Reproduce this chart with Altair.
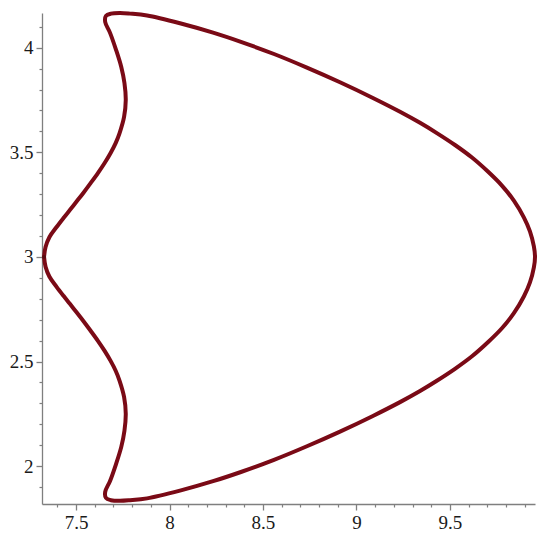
import altair as alt
import pandas as pd

# Closed curve: upper half (left tip -> right tip)
upper_x = [7.329, 7.337, 7.358, 7.396, 7.433, 7.467, 7.505, 7.539, 7.579, 7.617,
           7.653, 7.685, 7.712, 7.733, 7.757, 7.766, 7.759, 7.742, 7.714, 7.682,
           7.656, 7.660, 7.687, 7.735, 7.789, 7.880, 8.056, 8.233, 8.382, 8.559,
           8.735, 8.912, 9.088, 9.233, 9.340, 9.430, 9.527, 9.618, 9.703, 9.778,
           9.842, 9.896, 9.928, 9.949, 9.955]
upper_y = [3.000, 3.047, 3.095, 3.143, 3.186, 3.224, 3.267, 3.306, 3.354, 3.401,
           3.449, 3.497, 3.544, 3.592, 3.669, 3.750, 3.831, 3.908, 3.990, 4.071,
           4.123, 4.152, 4.163, 4.166, 4.163, 4.154, 4.117, 4.072, 4.028, 3.970,
           3.905, 3.835, 3.760, 3.694, 3.641, 3.592, 3.535, 3.475, 3.408, 3.341,
           3.269, 3.188, 3.122, 3.050, 3.000]
# lower half (right tip -> back to left tip)
lower_x = [9.949, 9.928, 9.896, 9.842, 9.778, 9.703, 9.618, 9.527, 9.430, 9.340,
           9.233, 9.088, 8.912, 8.735, 8.559, 8.382, 8.233, 8.056, 7.880, 7.789,
           7.735, 7.687, 7.660, 7.656, 7.682, 7.714, 7.742, 7.759, 7.766, 7.757,
           7.733, 7.712, 7.685, 7.653, 7.617, 7.579, 7.539, 7.505, 7.467, 7.433,
           7.396, 7.358, 7.337, 7.329]
lower_y = [2.950, 2.878, 2.812, 2.731, 2.659, 2.592, 2.525, 2.465, 2.408, 2.359,
           2.306, 2.240, 2.165, 2.095, 2.030, 1.972, 1.928, 1.883, 1.846, 1.837,
           1.834, 1.837, 1.848, 1.877, 1.929, 2.010, 2.092, 2.169, 2.250, 2.331,
           2.408, 2.456, 2.503, 2.551, 2.599, 2.646, 2.694, 2.733, 2.776, 2.814,
           2.857, 2.905, 2.953, 3.000]

x_major = [7.5, 8.0, 8.5, 9.0, 9.5]
y_major = [2.0, 2.5, 3.0, 3.5, 4.0]
x_minor = [7.4, 7.6, 7.7, 7.8, 7.9, 8.1, 8.2, 8.3, 8.4, 8.6, 8.7, 8.8, 8.9,
           9.1, 9.2, 9.3, 9.4, 9.6, 9.7, 9.8, 9.9]
y_minor = [1.9, 2.1, 2.2, 2.3, 2.4, 2.6, 2.7, 2.8, 2.9, 3.1, 3.2, 3.3, 3.4,
           3.6, 3.7, 3.8, 3.9, 4.1]

xs = upper_x + lower_x
ys = upper_y + lower_y
df = pd.DataFrame({"x": xs, "y": ys, "i": list(range(len(xs)))})
start = pd.DataFrame({"x": [xs[0]], "y": [ys[0]]})

xscale = alt.Scale(domain=[7.318, 9.955], nice=False, zero=False)
yscale = alt.Scale(domain=[1.819, 4.166], nice=False, zero=False)

GRAY = "#7f7f7f"
major_style = dict(
    grid=False, domainColor=GRAY, tickColor=GRAY, domainWidth=1.3,
    tickWidth=1.3, tickSize=6, labelFont="Liberation Serif", labelFontSize=19,
    labelColor="#1a1a1a", labelOverlap=False, format="~g", title=None,
)
minor_style = dict(
    grid=False, domain=False, tickColor=GRAY, tickWidth=1.2, tickSize=3,
    labels=False, title=None,
)

curve = alt.Chart(df).mark_line(
    color="#7a0a16", strokeWidth=4, interpolate="catmull-rom",
    strokeJoin="round", strokeCap="round",
).encode(
    x=alt.X("x:Q", scale=xscale,
            axis=alt.Axis(values=x_major, orient="bottom", labelPadding=3, **major_style)),
    y=alt.Y("y:Q", scale=yscale,
            axis=alt.Axis(values=y_major, orient="left", labelPadding=3, **major_style)),
    order="i:Q",
)

dot = alt.Chart(start).mark_point(
    filled=True, color="#5a0a10", size=14, opacity=1
).encode(
    x=alt.X("x:Q", scale=xscale,
            axis=alt.Axis(values=x_minor, orient="bottom", **minor_style)),
    y=alt.Y("y:Q", scale=yscale,
            axis=alt.Axis(values=y_minor, orient="left", **minor_style)),
)

chart = alt.layer(curve, dot).resolve_axis(
    x="independent", y="independent"
).properties(
    width=493, height=491,
    autosize=alt.AutoSizeParams(type="none"),
    padding={"left": 34, "top": 5, "right": 7, "bottom": 30},
).configure_view(stroke=None)

chart.save("out.html", embed_options={"renderer": "svg", "actions": False})
